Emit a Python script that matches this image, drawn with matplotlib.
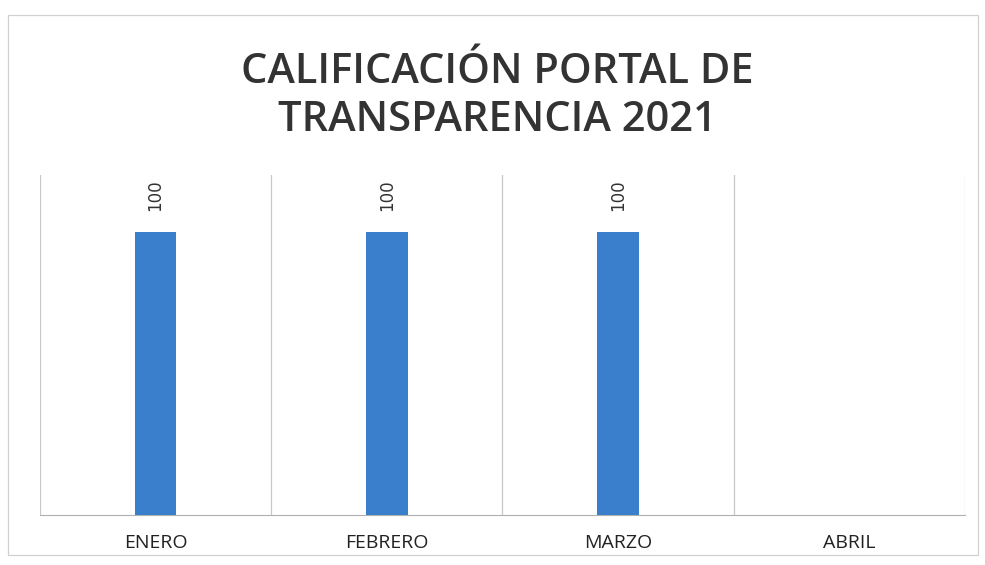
import matplotlib.pyplot as plt
from matplotlib.patches import Rectangle
import numpy as np

meses = ["ENERO", "FEBRERO", "MARZO", "ABRIL"]
calificacion = [100, 100, 100, None]

fig = plt.figure(figsize=(9.85, 5.65), dpi=100)
ax = fig.add_axes([0.0406, 0.0885, 0.939, 0.6015])

x = np.arange(len(meses))
valores = [v if v is not None else 0 for v in calificacion]
bars = ax.bar(x, valores, width=0.18, color="#3a7fcc", zorder=3)

for xi, v in zip(x, calificacion):
    if v is not None:
        ax.text(xi, v + 7.5, str(v), rotation=90, ha="center", va="bottom",
                fontsize=12, color="#333333", family="DejaVu Sans")

ax.set_xlim(-0.5, len(meses) - 0.5)
ax.set_ylim(0, 120)
ax.set_yticks([])

# category separators
ax.set_xticks(np.arange(-0.5, len(meses), 1), minor=True)
ax.grid(which="minor", axis="x", color="#c8c8c8", linewidth=0.9)
ax.tick_params(axis="x", which="minor", length=0)
ax.set_xticks(x)
ax.set_xticklabels(meses, fontsize=14, color="#222222", family="Open Sans")
ax.tick_params(axis="x", which="major", length=0, pad=14)

for s in ["top", "left", "right"]:
    ax.spines[s].set_visible(False)
ax.spines["bottom"].set_color("#b0b0b0")

fig.text(0.505, 0.83, "CALIFICACIÓN PORTAL DE\nTRANSPARENCIA 2021",
         ha="center", va="center", fontsize=30, fontweight="semibold",
         color="#333333", family="Open Sans", linespacing=1.2)

fig.patches.append(Rectangle((0.008, 0.018), 0.985, 0.955, transform=fig.transFigure,
                             fill=False, edgecolor="#d0d0d0", linewidth=0.9))

fig.savefig("out.png", dpi=100)
